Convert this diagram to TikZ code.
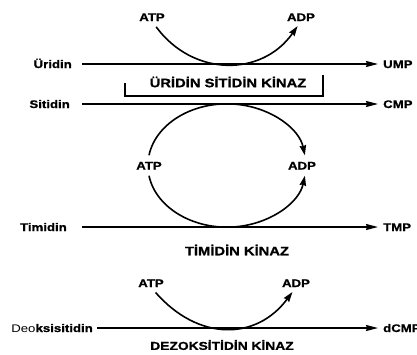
\documentclass[tikz,border=0pt]{standalone}
\usepackage{fontspec}
\setmainfont{Liberation Sans}[FakeStretch=1.2, BoldFeatures={FakeBold=1}]
\usetikzlibrary{arrows.meta}
\begin{document}
\begin{tikzpicture}[x=1pt,y=1pt,
  lab/.style={inner sep=0pt, text height=8pt, text depth=0pt,
              font=\fontsize{11}{13}\selectfont\bfseries},
  enz/.style={inner sep=0pt, font=\fontsize{12.3}{14}\selectfont\bfseries},
  flow/.style={line width=1.4pt, -{Stealth[length=12pt,width=6pt,inset=1pt]},
               shorten >=5pt},
  cyc/.style={line width=1.6pt, -{Stealth[length=10pt,width=6.5pt,inset=1pt]}},
]
\useasboundingbox (0,0) rectangle (417,-354);

% substrates and products
\node[lab, anchor=east] (uri)  at (72,-64)  {Üridin};
\node[lab, anchor=west] (ump)  at (383,-64) {UMP};
\node[lab, anchor=east] (sit)  at (70,-104) {Sitidin};
\node[lab, anchor=west] (cmp)  at (383,-104) {CMP};
\node[lab, anchor=east] (tim)  at (67,-227) {Timidin};
\node[lab, anchor=west] (tmp)  at (383,-227) {TMP};
\node[lab, anchor=east] (deo)  at (93,-328) {{\mdseries Deo}ksisitidin};
\node[lab, anchor=west] (dcmp) at (383,-328) {dCMP};

% reaction lines
\draw[flow, shorten <=10pt] (uri.east) -- (ump.west);
\draw[flow, shorten <=12pt] (sit.east) -- (cmp.west);
\draw[flow, shorten <=15pt] (tim.east) -- (tmp.west);
\draw[flow, shorten <=4pt]  (deo.east) -- (dcmp.west);

% enzyme names
\node[enz] (k1) at (228,-82)  {ÜRİDİN SİTİDİN KİNAZ};
\draw[line width=1.3pt] (125,-83) |- (323,-96) -- (323,-75);
\node[enz] (k2) at (237,-250) {TİMİDİN KİNAZ};
\node[enz, font=\fontsize{11.5}{13}\selectfont\bfseries] (k3) at (222,-345)
  {DEZOKSİTİDİN KİNAZ};

% ATP -> ADP, uridine/cytidine
\node[lab] (atpA) at (152,-17) {ATP};
\node[lab] (adpA) at (301,-17) {ADP};
\draw[cyc, shorten <=7pt, shorten >=6pt]
  (atpA.south) .. controls (193,-77) and (262,-77) .. (adpA.south);

% ATP -> ADP loop between cytidine and thymidine lines
\node[lab, minimum height=20pt] (atpB) at (149,-165.5) {ATP};
\node[lab] (adpB) at (302,-165.5) {ADP};
\draw[cyc] (atpB.north) arc[start angle=170.6, end angle=9.4,
                            x radius=79, y radius=61.5];
\draw[cyc] (atpB.south) arc[start angle=189.4, end angle=350.6,
                            x radius=79, y radius=61.5];

% ATP -> ADP, deoxycytidine
\node[lab] (atpC) at (151,-283) {ATP};
\node[lab] (adpC) at (296,-283) {ADP};
\draw[cyc, shorten <=7pt, shorten >=6pt]
  (atpC.south) .. controls (198,-341) and (256,-341) .. (adpC.south);
\end{tikzpicture}
\end{document}
